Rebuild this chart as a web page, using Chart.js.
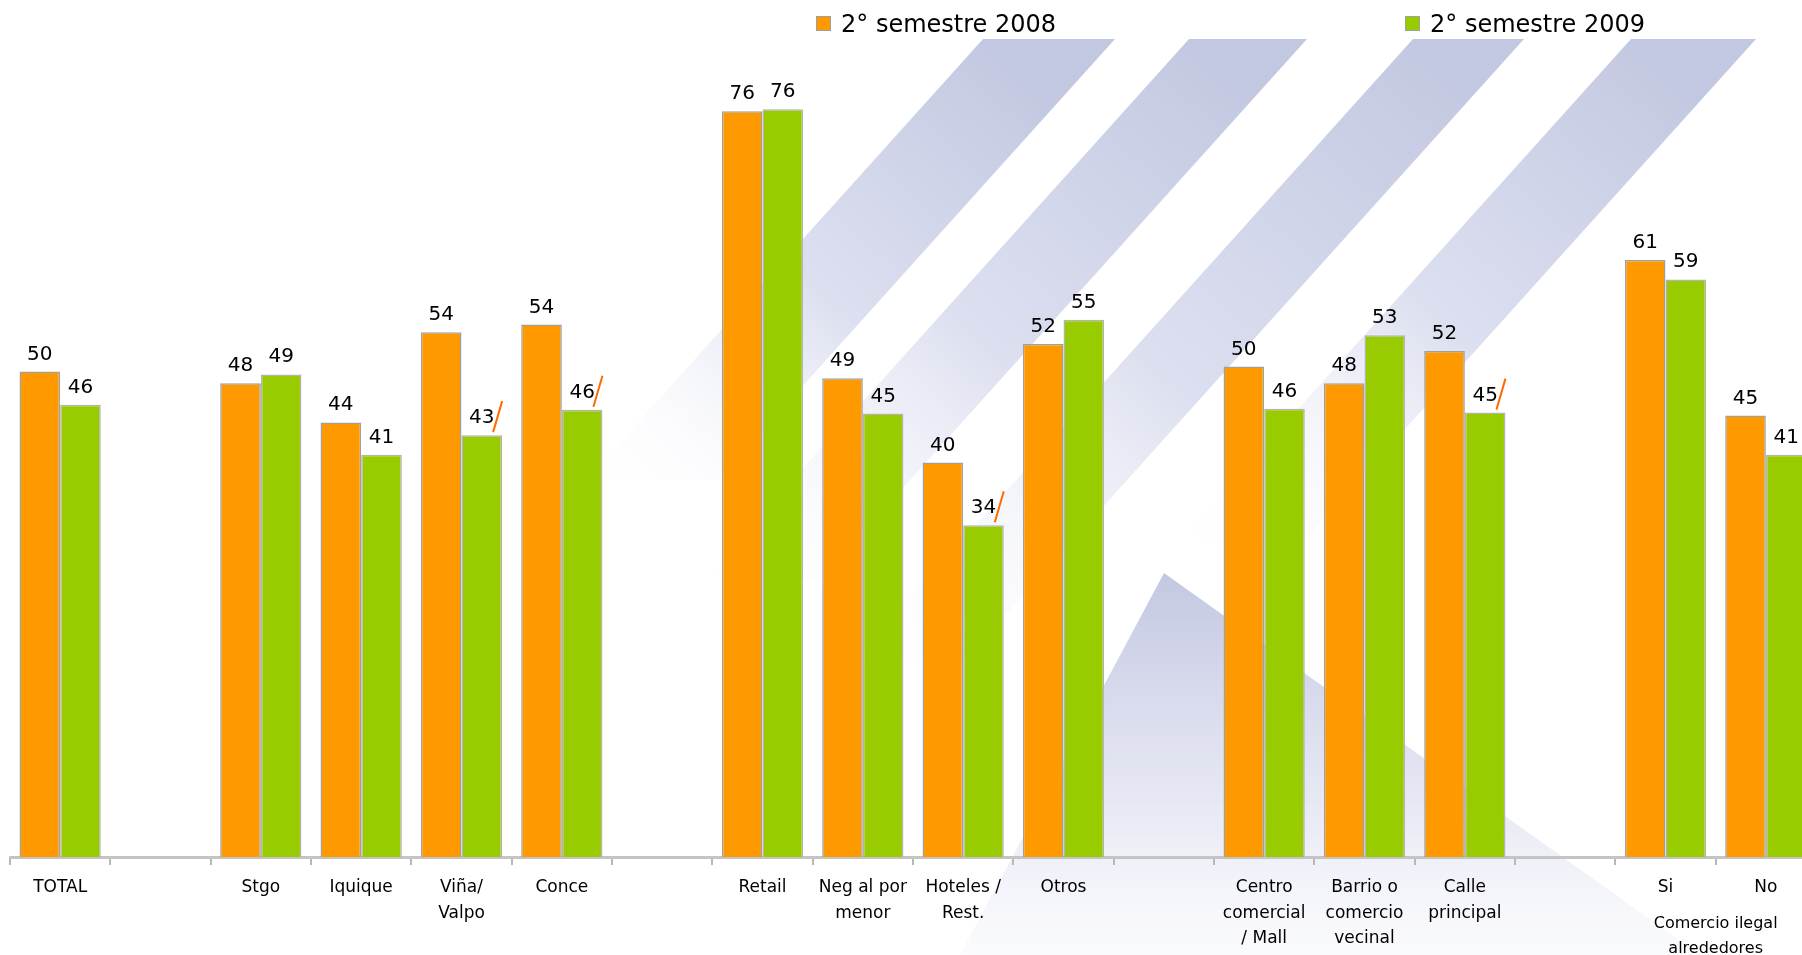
<!DOCTYPE html>
<html>
<head>
<meta charset="utf-8">
<script src="https://cdn.jsdelivr.net/npm/chart.js@4.4.1/dist/chart.umd.min.js"></script>
<style>
  html, body { margin: 0; padding: 0; background: #fff; overflow: hidden; width: 1802px; height: 955px; }
  #wrap { position: absolute; left: 0; top: 0; width: 1826px; height: 955px; }
  .leg { position: absolute; top: 8px; padding-left: 25px; font: 24px "DejaVu Sans", Verdana, sans-serif;
         color: #000; white-space: nowrap; line-height: 32px; z-index: 2; }
  .leg i { position: absolute; left: 0; top: 8px; width: 13px; height: 13px; border: 1.5px solid #a0a0a0; }
</style>
</head>
<body>
<div id="wrap"><canvas id="chart" width="1826" height="955"></canvas></div>
<div class="leg" id="leg0" style="left:816px"><i></i><span></span></div>
<div class="leg" id="leg1" style="left:1405px"><i></i><span></span></div>
<script>
// categories ('' = spacer between groups)
const categories = [
  'TOTAL', '', 'Stgo', 'Iquique', ['Viña/', 'Valpo'], 'Conce', '',
  'Retail', ['Neg al por', 'menor'], ['Hoteles /', 'Rest.'], 'Otros', '',
  ['Centro', 'comercial', '/ Mall'], ['Barrio o', 'comercio', 'vecinal'], ['Calle', 'principal'], '',
  'Si', 'No'
];
const seriesNames = ['2° semestre 2008', '2° semestre 2009'];
const sem2008 = [49.6, null, 48.4, 44.4, 53.6, 54.4, null, 76.2, 48.9, 40.3, 52.4, null, 50.1, 48.4, 51.7, null, 61.0, 45.1];
const sem2009 = [46.2, null, 49.3, 41.1, 43.1, 45.7, null, 76.4, 45.3, 33.9, 54.9, null, 45.8, 53.3, 45.4, null, 59.0, 41.1];
// orange slash next to 2009 value (significant drop)
const dropMarks = [false, false, false, false, true, true, false, false, false, true, false, false, false, false, true, false, false, false];
const groupLabel = ['Comercio ilegal', 'alrededores'];
const groupRange = [16, 17];

const colors = ['#ff9900', '#99cc00'];
const FONT = '"DejaVu Sans", Verdana, sans-serif';

// html legend
seriesNames.forEach((name, i) => {
  const el = document.getElementById('leg' + i);
  el.querySelector('span').textContent = name;
  el.querySelector('i').style.background = colors[i];
});

/* ---- background watermark (logo stripes) ---- */
const watermarkPlugin = {
  id: 'watermark',
  beforeDraw(chart) {
    const ctx = chart.ctx;
    ctx.save();
    const stripes = [
      // [topLeftX, topRightX, topY, bottomY]
      [983, 1115, 39, 480],
      [1189, 1307, 39, 580],
      [1413, 1524, 39, 660],
      [1631, 1756, 39, 540]
    ];
    const slope = 0.9;
    for (const [x0, x1, y0, y1] of stripes) {
      const shift = (y1 - y0) * slope;
      const g = ctx.createLinearGradient(x0, y0, x0 - shift, y1);
      g.addColorStop(0, 'rgba(192,197,224,0.95)');
      g.addColorStop(0.5, 'rgba(206,210,233,0.7)');
      g.addColorStop(0.85, 'rgba(232,234,246,0.15)');
      g.addColorStop(1, 'rgba(240,241,250,0)');
      ctx.fillStyle = g;
      ctx.beginPath();
      ctx.moveTo(x0, y0);
      ctx.lineTo(x1, y0);
      ctx.lineTo(x1 - shift, y1);
      ctx.lineTo(x0 - shift, y1);
      ctx.closePath();
      ctx.fill();
    }
    // chevron
    const g2 = ctx.createLinearGradient(0, 573, 0, 955);
    g2.addColorStop(0, 'rgba(188,193,222,0.9)');
    g2.addColorStop(0.6, 'rgba(210,213,235,0.55)');
    g2.addColorStop(1, 'rgba(232,234,246,0.2)');
    ctx.fillStyle = g2;
    ctx.beginPath();
    ctx.moveTo(1164, 573);
    ctx.lineTo(1700, 955);
    ctx.lineTo(960, 955);
    ctx.closePath();
    ctx.fill();
    ctx.restore();
  }
};

/* ---- value labels, drop slashes, group label ---- */
const labelsPlugin = {
  id: 'valueLabels',
  afterDatasetsDraw(chart) {
    const ctx = chart.ctx;
    ctx.save();
    ctx.font = '20px ' + FONT;
    ctx.fillStyle = '#000';
    ctx.textAlign = 'center';
    ctx.textBaseline = 'alphabetic';
    chart.data.datasets.forEach((ds, di) => {
      const meta = chart.getDatasetMeta(di);
      meta.data.forEach((el, i) => {
        const v = ds.data[i];
        if (v == null) return;
        ctx.fillText(String(Math.round(v)), el.x, el.y - 12);
        if (di === 1 && dropMarks[i]) {
          const right = el.x + el.width / 2;
          ctx.strokeStyle = '#ff6a00';
          ctx.lineWidth = 2;
          ctx.beginPath();
          ctx.moveTo(right - 9, el.y - 3);
          ctx.lineTo(right, el.y - 34);
          ctx.stroke();
        }
      });
    });
    // group caption under Si / No
    const xs = chart.scales.x;
    const gx = (xs.getPixelForValue(groupRange[0]) + xs.getPixelForValue(groupRange[1])) / 2;
    const base = chart.chartArea.bottom;
    ctx.font = '16px ' + FONT;
    ctx.textBaseline = 'middle';
    ctx.fillText(groupLabel[0], gx, base + 67);
    ctx.fillText(groupLabel[1], gx, base + 92);
    ctx.restore();
  }
};

new Chart(document.getElementById('chart'), {
  type: 'bar',
  data: {
    labels: categories,
    datasets: [
      { label: seriesNames[0], data: sem2008, backgroundColor: colors[0], borderColor: '#a0a0a0', borderWidth: 1.5 },
      { label: seriesNames[1], data: sem2009, backgroundColor: colors[1], borderColor: '#b4b4b4', borderWidth: 1.5 }
    ]
  },
  options: {
    responsive: false,
    animation: false,
    layout: { padding: { top: 25, left: 10, right: 10, bottom: 0 } },
    datasets: { bar: { categoryPercentage: 0.81, barPercentage: 1.0 } },
    scales: {
      x: {
        grid: { offset: true, drawOnChartArea: false, drawTicks: true, tickLength: 8, color: '#b8b8b8', lineWidth: 2 },
        border: { display: true, color: '#c4c4c4', width: 3 },
        ticks: { color: '#000', font: { family: FONT, size: 17, lineHeight: '25.5px' }, padding: 10, maxRotation: 0, autoSkip: false },
        afterFit: (scale) => { scale.height = 98; }
      },
      y: { display: false, min: 0, max: 85 }
    },
    plugins: {
      legend: { display: false },
      tooltip: { enabled: false }
    }
  },
  plugins: [watermarkPlugin, labelsPlugin]
});
</script>
</body>
</html>
